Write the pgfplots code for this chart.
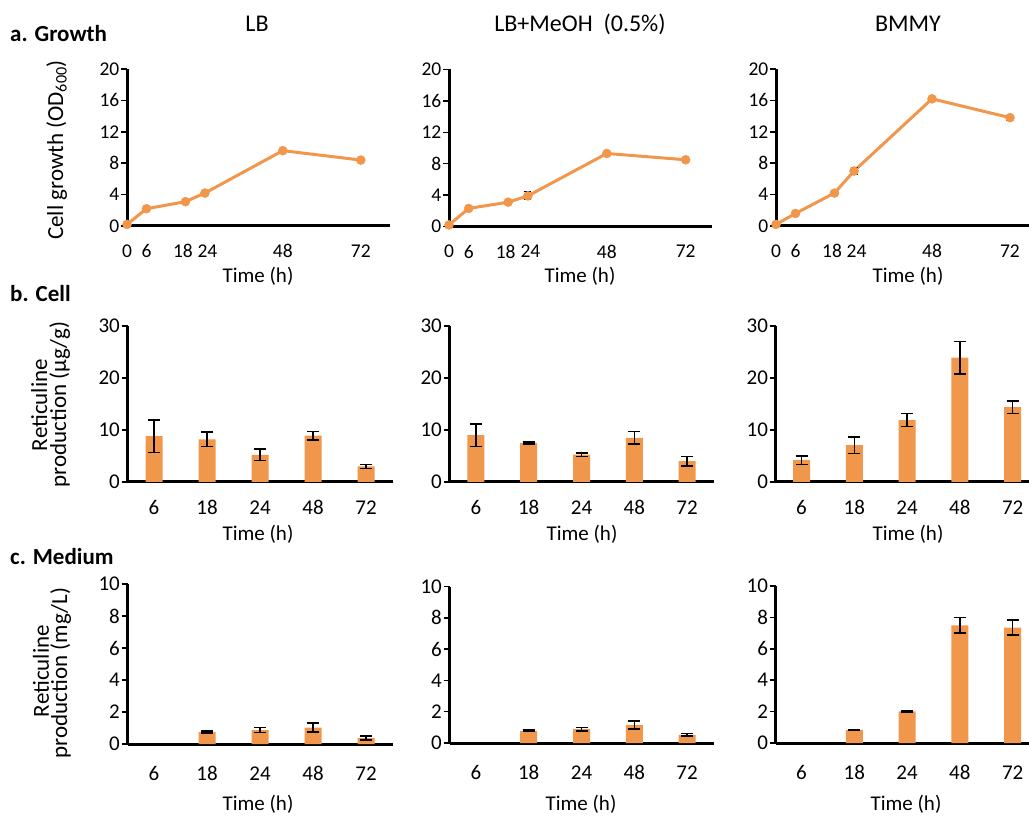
\documentclass[border=0pt]{standalone}
\usepackage{fontspec}
\setmainfont{Carlito}
\usepackage{pgfplots}
\usepackage{pgfplotstable}
\pgfplotsset{compat=1.18}
\definecolor{org}{RGB}{241,151,76}

% Row a: growth (OD600)
\pgfplotstableread{
x y e
0 0.2 0.1
6 2.2 0.2
18 3.1 0.2
24 4.2 0.2
48 9.6 0.2
72 8.4 0.2
}\growthLB
\pgfplotstableread{
x y e
0 0.2 0.1
6 2.3 0.2
18 3.1 0.2
24 3.9 0.5
48 9.3 0.3
72 8.5 0.3
}\growthMeOH
\pgfplotstableread{
x y e
0 0.2 0.1
6 1.6 0.2
18 4.2 0.2
24 7.0 0.5
48 16.2 0.2
72 13.8 0.3
}\growthBMMY
% Row b: cell (ug/g); x = 0..4 for 6,18,24,48,72 h
\pgfplotstableread{
x y e
0 8.8 3.1
1 8.2 1.4
2 5.2 1.1
3 8.9 0.8
4 3.0 0.4
}\cellLB
\pgfplotstableread{
x y e
0 9.0 2.2
1 7.5 0.15
2 5.25 0.35
3 8.5 1.2
4 4.0 0.9
}\cellMeOH
\pgfplotstableread{
x y e
0 4.2 0.8
1 7.1 1.6
2 11.9 1.25
3 23.9 3.1
4 14.4 1.2
}\cellBMMY
% Row c: medium (mg/L)
\pgfplotstableread{
x y e
1 0.75 0.05
2 0.87 0.15
3 1.02 0.28
4 0.37 0.12
}\medLB
\pgfplotstableread{
x y e
1 0.77 0.05
2 0.88 0.10
3 1.15 0.25
4 0.52 0.08
}\medMeOH
\pgfplotstableread{
x y e
1 0.83 0.03
2 2.02 0.03
3 7.5 0.5
4 7.35 0.47
}\medBMMY

\pgfplotsset{
  panel/.style={
    scale only axis, anchor=south west,
    axis x line=bottom, axis y line=left,
    axis line style={line width=3pt, -, black},
    enlargelimits=false, clip=false,
    tick align=outside, major tick length=6pt,
    ytick style={line width=1.5pt, black},
    xtick style={draw=none},
    /pgf/number format/assume math mode=true,
    yticklabel style={inner sep=1.5pt},
    ymin=0,
  },
  linepanel/.style={panel, width=#1, height=157pt, ymax=20,
    ytick={0,4,8,12,16,20}, xtick={0,6,18,24,48,72}, xmin=0,
    xticklabels={0,6,\makebox[0pt]{\hspace*{-5pt}18},\makebox[0pt]{\hspace*{5pt}24},48,72},
    ticklabel style={font=\fontsize{19.5}{22}\selectfont},
    xticklabel style={yshift=-9pt}},
  barpanel/.style={panel,
    xtick={0,1,2,3,4}, xticklabels={6,18,24,48,72},
    ticklabel style={font=\fontsize{21}{24}\selectfont}},
  linestyle/.style={org, line width=3pt, mark=*, mark size=4.5pt,
    mark options={fill=org, draw=org, line width=0.5pt},
    error bars/.cd, y dir=both, y explicit,
    error bar style={black, line width=1pt},
    error mark options={rotate=90, mark size=3.5pt, black, line width=1pt}},
  barstyle/.style={ybar, bar width=17pt, fill=org, draw=none,
    error bars/.cd, y dir=both, y explicit,
    error bar style={black, line width=1.5pt},
    error mark options={rotate=90, mark size=6pt, black, line width=1.5pt}},
}

\begin{document}
\begin{tikzpicture}
\path[use as bounding box] (0pt,0pt) rectangle (1029pt,815pt);

% ---------- Row a ----------
\begin{axis}[linepanel=263pt, at={(127pt,589pt)}, xmax=81]
\addplot[linestyle] table[x=x,y=y,y error=e] {\growthLB};
\end{axis}
\begin{axis}[linepanel=263pt, at={(449pt,588.5pt)}, xmax=80]
\addplot[linestyle] table[x=x,y=y,y error=e] {\growthMeOH};
\end{axis}
\begin{axis}[linepanel=253pt, at={(776pt,589pt)}, xmax=77.85]
\addplot[linestyle] table[x=x,y=y,y error=e] {\growthBMMY};
\end{axis}

% ---------- Row b ----------
\begin{axis}[barpanel, width=265pt, height=156pt, at={(127.5pt,333pt)},
  xmin=-0.5, xmax=4.5, ymax=30, ytick={0,10,20,30},
  xticklabel style={yshift=-9pt}]
\addplot[barstyle] table[x=x,y=y,y error=e] {\cellLB};
\end{axis}
\begin{axis}[barpanel, width=264pt, height=156pt, at={(449.5pt,333pt)},
  xmin=-0.5, xmax=4.5, ymax=30, ytick={0,10,20,30},
  xticklabel style={yshift=-9pt}]
\addplot[barstyle] table[x=x,y=y,y error=e] {\cellMeOH};
\end{axis}
\begin{axis}[barpanel, width=253.3pt, height=156pt, at={(775.7pt,333pt)},
  xmin=-0.49, xmax=4.31, ymax=30, ytick={0,10,20,30},
  xticklabel style={yshift=-9pt}]
\addplot[barstyle] table[x=x,y=y,y error=e] {\cellBMMY};
\end{axis}

% ---------- Row c ----------
\begin{axis}[barpanel, width=265pt, height=160pt, at={(127.5pt,71pt)},
  xmin=-0.5, xmax=4.5, ymax=10, ytick={0,2,4,6,8,10},
  xticklabel style={yshift=-13pt}]
\addplot[barstyle] table[x=x,y=y,y error=e] {\medLB};
\end{axis}
\begin{axis}[barpanel, width=264pt, height=156.5pt, at={(449.5pt,72pt)},
  xmin=-0.5, xmax=4.5, ymax=10, ytick={0,2,4,6,8,10},
  xticklabel style={yshift=-13pt}]
\addplot[barstyle] table[x=x,y=y,y error=e] {\medMeOH};
\end{axis}
\begin{axis}[barpanel, width=253.3pt, height=157pt, at={(775.7pt,72pt)},
  xmin=-0.49, xmax=4.31, ymax=10, ytick={0,2,4,6,8,10},
  xticklabel style={yshift=-13pt}]
\addplot[barstyle] table[x=x,y=y,y error=e] {\medBMMY};
\end{axis}

% ---------- Text ----------
\begin{scope}[every node/.style={inner sep=0pt}]
\node[anchor=base west, font=\fontsize{23}{26}\selectfont\bfseries] at (10pt,773.5pt) {a. Growth};
\node[anchor=base west, font=\fontsize{23}{26}\selectfont\bfseries] at (10pt,513pt) {b. Cell};
\node[anchor=base west, font=\fontsize{23}{26}\selectfont\bfseries] at (10pt,250pt) {c. Medium};

\node[anchor=base, font=\fontsize{24}{27}\selectfont] at (257pt,783pt) {LB};
\node[anchor=base, font=\fontsize{24}{27}\selectfont] at (580pt,783pt) {LB+MeOH~~(0.5\%)};
\node[anchor=base, font=\fontsize{24}{27}\selectfont] at (908pt,783pt) {BMMY};

\foreach \xx in {258,580,908} {
  \node[anchor=base, font=\fontsize{21}{24}\selectfont] at (\xx pt,532pt) {Time (h)};
}
\foreach \xx in {258,582,908} {
  \node[anchor=base, font=\fontsize{21}{24}\selectfont] at (\xx pt,274pt) {Time (h)};
}
\foreach \xx in {258,581,906} {
  \node[anchor=base, font=\fontsize{21}{24}\selectfont] at (\xx pt,4.5pt) {Time (h)};
}

\node[anchor=base, rotate=90, font=\fontsize{23}{26}\selectfont] at (63pt,665pt) {Cell growth (OD\textsubscript{600})};
\node[anchor=base, rotate=90, font=\fontsize{23}{26}\selectfont] at (47pt,410pt) {Reticuline};
\node[anchor=base, rotate=90, font=\fontsize{23}{26}\selectfont] at (66pt,410.5pt) {production (µg/g)};
\node[anchor=base, rotate=90, font=\fontsize{23}{26}\selectfont] at (49pt,144pt) {Reticuline};
\node[anchor=base, rotate=90, font=\fontsize{23}{26}\selectfont] at (67pt,142pt) {production (mg/L)};
\end{scope}
\end{tikzpicture}
\end{document}
